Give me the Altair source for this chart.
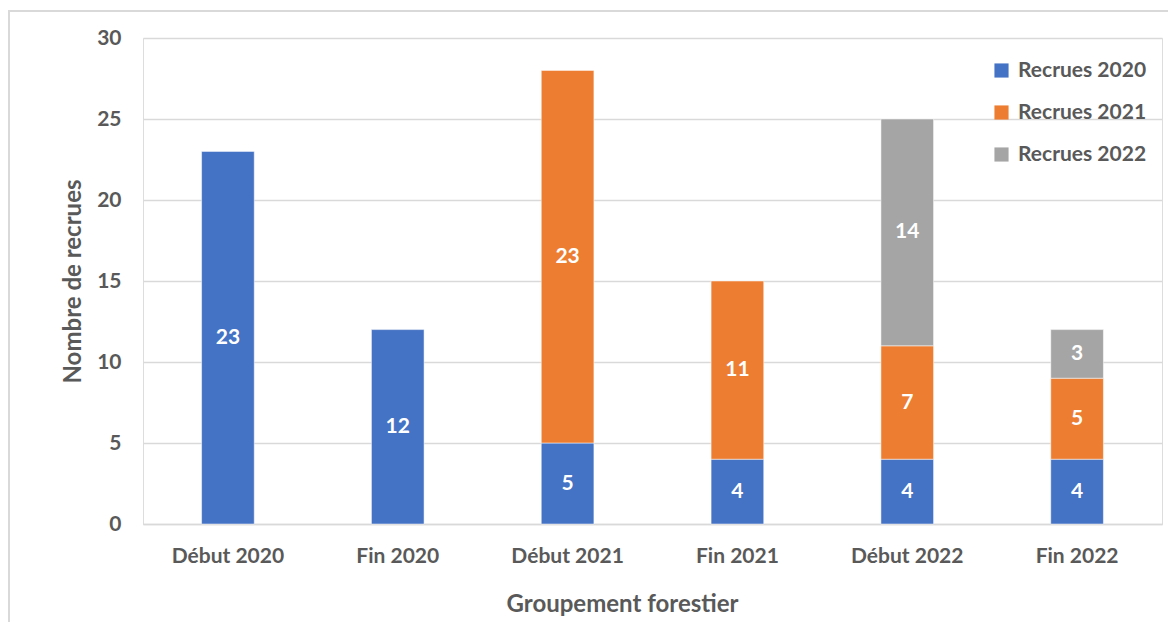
import altair as alt
import pandas as pd

categories = ["Début 2020", "Fin 2020", "Début 2021", "Fin 2021", "Début 2022", "Fin 2022"]
series = ["Recrues 2020", "Recrues 2021", "Recrues 2022"]
recrues_2020 = [23, 12, 5, 4, 4, 4]
recrues_2021 = [None, None, 23, 11, 7, 5]
recrues_2022 = [None, None, None, None, 14, 3]
y_ticks = [0, 5, 10, 15, 20, 25, 30]
colors = ["#4472C4", "#ED7D31", "#A5A5A5"]

rows = []
for name, vals in zip(series, [recrues_2020, recrues_2021, recrues_2022]):
    for c, v in zip(categories, vals):
        if v is not None:
            rows.append({"cat": c, "serie": name, "val": v, "ord": series.index(name)})
df = pd.DataFrame(rows)

FONT = "Lato"
GREY = "#595959"

base = alt.Chart(df).transform_stack(
    stack="val", groupby=["cat"], as_=["y0", "y1"], sort=[alt.SortField("ord")]
).transform_calculate(mid="(datum.y0 + datum.y1) / 2")

xscale = alt.Scale(domain=categories, paddingInner=0.69, paddingOuter=0.345)
yscale = alt.Scale(domain=[0, 30], nice=False)

xaxis = alt.Axis(title="Groupement forestier", labelAngle=0, labelFont=FONT, labelFontSize=21,
                 labelFontWeight="bold", labelColor=GREY, labelPadding=21, ticks=False,
                 domain=True, domainColor="#d9d9d9", domainWidth=1.5,
                 titleFont=FONT, titleFontSize=24, titleFontWeight="bold", titleColor=GREY,
                 titlePadding=26, titleX=479)
yaxis = alt.Axis(title="Nombre de recrues", values=y_ticks,
                 labelFont=FONT, labelFontSize=21, labelFontWeight="bold", labelColor=GREY,
                 labelPadding=22, ticks=False, domain=False, grid=True, gridColor="#d9d9d9",
                 gridWidth=1.5, titleFont=FONT, titleFontSize=24, titleFontWeight="bold",
                 titleColor=GREY, titlePadding=11)

bars = base.mark_bar(stroke="white", strokeWidth=0.5).encode(
    x=alt.X("cat:N", sort=categories, scale=xscale, axis=xaxis),
    y=alt.Y("y1:Q", scale=yscale, axis=yaxis),
    y2="y0:Q",
    color=alt.Color("serie:N", scale=alt.Scale(domain=series, range=colors),
                    legend=alt.Legend(title=None, orient="none", legendX=848, legendY=22,
                                      symbolType="square", symbolSize=200, symbolStrokeWidth=0,
                                      labelFont=FONT, labelFontSize=21, labelFontWeight="bold",
                                      labelColor=GREY, rowPadding=20, labelOffset=6)),
)

labels = base.mark_text(color="white", font=FONT, fontSize=21, fontWeight="bold").encode(
    x=alt.X("cat:N", sort=categories, scale=xscale, axis=xaxis),
    y=alt.Y("mid:Q", scale=yscale, axis=yaxis),
    text=alt.Text("val:Q"),
)

frame = alt.Chart(pd.DataFrame({"a": [0]})).mark_rect(
    fill=None, stroke="#d9d9d9", strokeWidth=2
).encode(x=alt.value(-134), x2=alt.value(1040), y=alt.value(-27), y2=alt.value(640))

chart = alt.layer(frame, bars, labels).properties(
    width=1019, height=486,
    padding={"left": 135, "top": 30, "right": 6, "bottom": 98},
    autosize=alt.AutoSizeParams(type="none"),
).configure_view(stroke=None).configure(background="white")

chart.save("out.html", embed_options={"renderer": "svg", "actions": False})
